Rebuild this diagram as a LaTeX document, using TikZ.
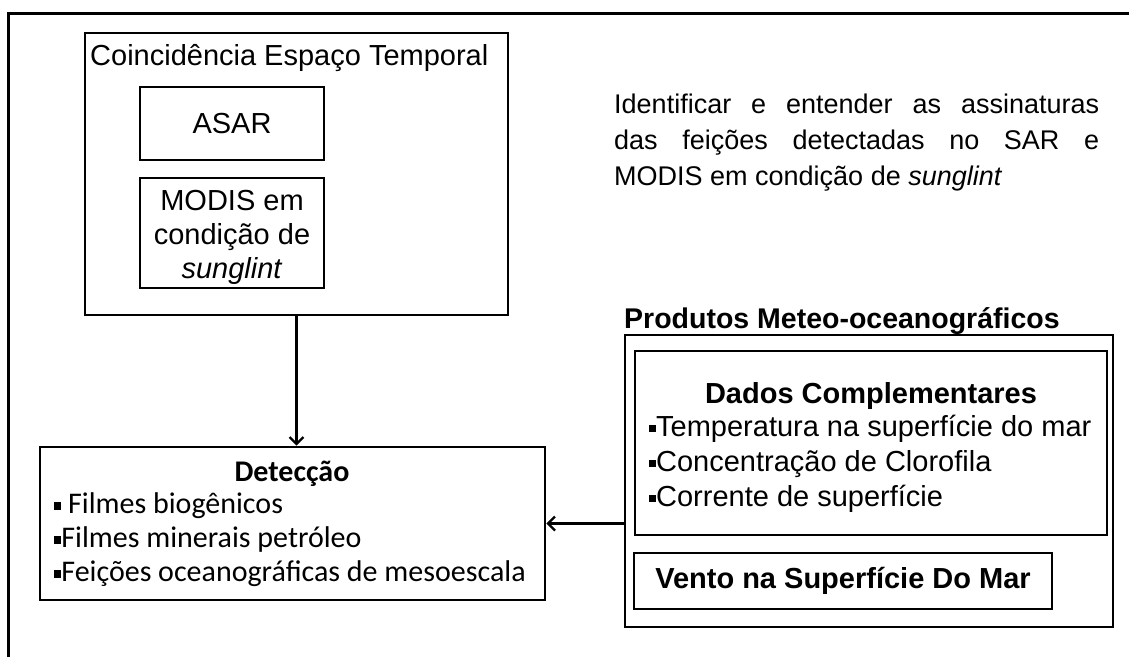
\documentclass[tikz,border=0pt]{standalone}
\usepackage{fontspec}
\setmainfont{Liberation Sans}
\newfontfamily\calibfont{Carlito}
\usetikzlibrary{arrows.meta, shapes, positioning}
\newcommand{\sqbul}{\rule[0.24ex]{0.24em}{0.24em}}

\begin{document}
\begin{tikzpicture}[
            x = 1pt, y = -1pt, % pixel units, y pointing down
            > = {Straight Barb[length=7pt, width=14pt]}, % arrow head style
            line width = 2.4pt,
            font = \fontsize{29}{34}\selectfont,
        ]
 \tikzstyle{boxstyle}=[
            draw = black,
            line width = 2.6pt,
            inner sep = 0pt
        ]
 \tikzstyle{textstyle}=[inner sep = 0pt]
 \tikzstyle{calibstyle}=[inner sep = 0pt, anchor = base west, font = \fontsize{30}{35}\calibfont]
\useasboundingbox (0,0) rectangle (1129,657);
% frame
\draw[line width = 3pt] (8,657) -- (8,13) -- (1129,13);
% sources
\node[boxstyle, minimum width = 423pt, minimum height = 282pt] (coin) at (296.5,174) {};
\node[textstyle, anchor = base west] (cointitle) at (89,65) {Coincidência Espaço Temporal};
\node[boxstyle, minimum width = 184pt, minimum height = 73pt] (asar) at (232,123.5) {ASAR};
\node[boxstyle, minimum width = 184pt, minimum height = 110pt] (modis) at (232,233) {};
\node[textstyle, align = center] (modistext) at (232,237) {MODIS em\\condição de\\\textit{sunglint}};
\node[textstyle, anchor = north west, align = left, font = \fontsize{27}{36}\selectfont] (goal) at (613,93)
    {\makebox[485pt][s]{Identificar e entender as assinaturas}\\
     \makebox[485pt][s]{das feições detectadas no SAR e}\\
     MODIS em condição de \textit{sunglint}};
% detection
\node[boxstyle, minimum width = 505pt, minimum height = 153pt] (detec) at (292.5,523.5) {};
\node[calibstyle, anchor = base, font = \fontsize{30}{35}\calibfont\bfseries] (detectitle) at (292,481) {Detecção};
\node[calibstyle] (bio) at (53,513) {\sqbul\ Filmes biogênicos};
\node[calibstyle] (oil) at (53,547) {\sqbul Filmes minerais petróleo};
\node[calibstyle] (meso) at (53,581) {\sqbul Feições oceanográficas de mesoescala};
% products
\node[textstyle, anchor = base west, font = \fontsize{28.5}{34}\selectfont\bfseries] (prodtitle) at (623,328) {Produtos Meteo-oceanográficos};
\node[boxstyle, minimum width = 488pt, minimum height = 292pt] (prod) at (869,481) {};
\node[boxstyle, minimum width = 472pt, minimum height = 184pt] (dados) at (871,443) {};
\node[textstyle, anchor = base, font = \fontsize{29}{34}\selectfont\bfseries] (dadostitle) at (871,403) {Dados Complementares};
\node[textstyle, anchor = base west] (sst) at (648,436) {\sqbul Temperatura na superfície do mar};
\node[textstyle, anchor = base west] (chl) at (648,471) {\sqbul Concentração de Clorofila};
\node[textstyle, anchor = base west] (curr) at (648,506) {\sqbul Corrente de superfície};
\node[boxstyle, minimum width = 418pt, minimum height = 56pt, font = \fontsize{29}{34}\selectfont\bfseries] (vento) at (843,581) {Vento na Superfície Do Mar};
% connectors
\draw[->] (coin.south) -- (coin.south |- detec.north);
\draw[->] (prod.west |- detec.east) -- (detec.east);
\end{tikzpicture}
\end{document}
